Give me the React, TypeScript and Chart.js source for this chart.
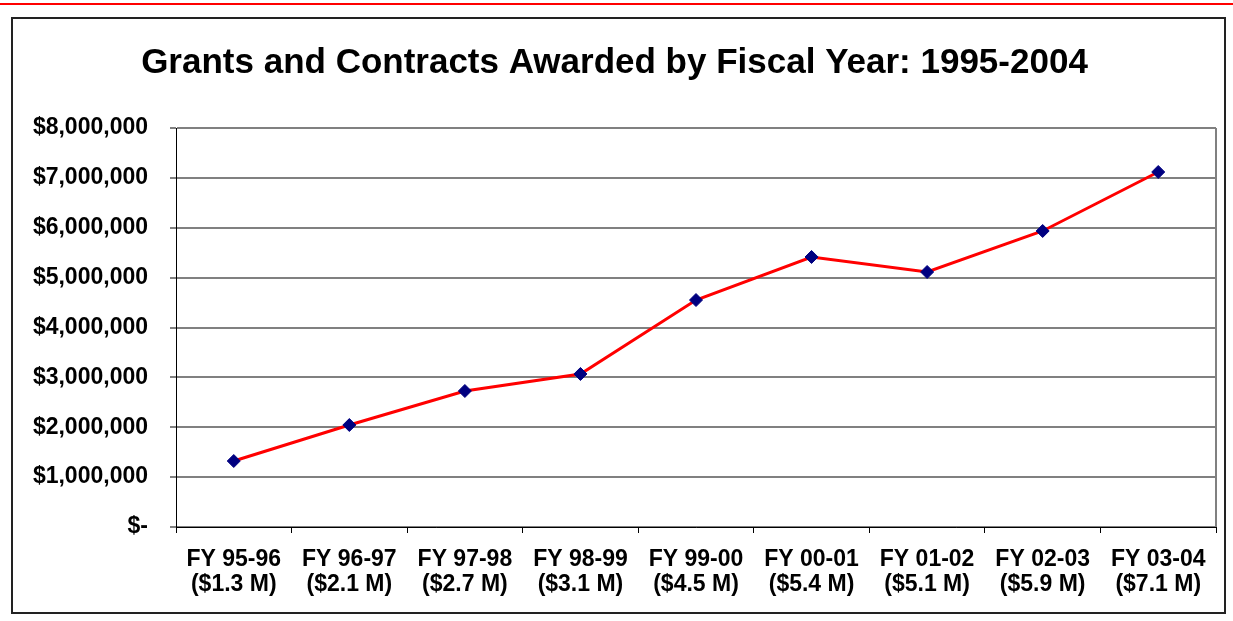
import React, { useEffect, useRef } from "react";
import { Chart, registerables } from "chart.js";

Chart.register(...registerables);

const chartTitle = "Grants and Contracts Awarded by Fiscal Year: 1995-2004";
const fiscalYears = ["FY 95-96", "FY 96-97", "FY 97-98", "FY 98-99", "FY 99-00", "FY 00-01", "FY 01-02", "FY 02-03", "FY 03-04"];
const totalsLabels = ["($1.3 M)", "($2.1 M)", "($2.7 M)", "($3.1 M)", "($4.5 M)", "($5.4 M)", "($5.1 M)", "($5.9 M)", "($7.1 M)"];
const awards = [1323000, 2045000, 2727000, 3068000, 4551000, 5414000, 5113000, 5935000, 7118000];
const yTickLabels = ["$-", "$1,000,000", "$2,000,000", "$3,000,000", "$4,000,000", "$5,000,000", "$6,000,000", "$7,000,000", "$8,000,000"];

const FONT = "Arial, 'Liberation Sans', sans-serif";
const CANVAS_W = 1211;
const CANVAS_H = 593;

export default function App() {
  const ref = useRef<HTMLCanvasElement | null>(null);

  useEffect(() => {
    if (!ref.current) return;
    const framePlugin = {
      id: "plotFrame",
      beforeDatasetsDraw(chart: any) {
        const { ctx, chartArea } = chart;
        ctx.save();
        ctx.strokeStyle = "#808080";
        ctx.lineWidth = 2;
        ctx.beginPath();
        ctx.moveTo(chartArea.right, chartArea.top);
        ctx.lineTo(chartArea.right, chartArea.bottom);
        ctx.stroke();
        ctx.restore();
      },
    };
    const chart = new Chart(ref.current, {
      type: "line",
      data: {
        labels: fiscalYears.map((fy, i) => [fy, totalsLabels[i]]),
        datasets: [
          {
            data: awards,
            borderColor: "#ff0000",
            borderWidth: 3,
            pointStyle: "rectRot",
            pointRadius: 6.5,
            pointBackgroundColor: "#000080",
            pointBorderColor: "#000080",
            pointBorderWidth: 1,
            tension: 0,
            fill: false,
          },
        ],
      },
      options: {
        responsive: false,
        animation: false,
        devicePixelRatio: 1,
        layout: { padding: { left: 0, right: 8, top: 0, bottom: 0 } },
        plugins: {
          legend: { display: false },
          tooltip: { enabled: false },
          title: {
            display: true,
            text: chartTitle,
            color: "#000",
            font: { family: FONT, size: 35, weight: "bold" },
            padding: { top: 23, bottom: 44 },
          },
        },
        scales: {
          x: {
            offset: true,
            grid: {
              offset: true,
              drawOnChartArea: false,
              drawTicks: true,
              tickLength: 6,
              tickColor: "#000",
              tickWidth: 1,
            },
            border: { color: "#000", width: 1 },
            ticks: {
              color: "#000",
              font: { family: FONT, size: 23, weight: "bold", lineHeight: 1.1 },
              padding: 14,
              maxRotation: 0,
              autoSkip: false,
            },
            afterFit: (scale: any) => {
              scale.height = 85;
            },
          },
          y: {
            min: 0,
            max: 8000000,
            grid: {
              color: "#808080",
              lineWidth: 2,
              drawTicks: true,
              tickLength: 6,
              tickColor: "#000",
              tickWidth: 1,
            },
            border: { color: "#000", width: 1 },
            ticks: {
              stepSize: 1000000,
              color: "#000",
              font: { family: FONT, size: 23, weight: "bold" },
              padding: 22,
              callback: (_v: any, i: number) => yTickLabels[i],
            },
            afterFit: (scale: any) => {
              scale.width = 163;
            },
          },
        },
      },
      plugins: [framePlugin],
    });
    return () => chart.destroy();
  }, []);

  return (
    <div style={{ position: "fixed", left: 0, top: 0, width: 1233, height: 621, background: "#fff" }}>
      <div style={{ position: "absolute", left: 0, top: 3, width: 1233, height: 2, background: "#ff0000" }} />
      <div
        style={{
          position: "absolute",
          left: 11,
          top: 17,
          width: 1215,
          height: 597,
          boxSizing: "border-box",
          border: "2px solid #222",
        }}
      >
        <canvas ref={ref} width={CANVAS_W} height={CANVAS_H} style={{ display: "block", width: CANVAS_W, height: CANVAS_H }} />
      </div>
    </div>
  );
}
